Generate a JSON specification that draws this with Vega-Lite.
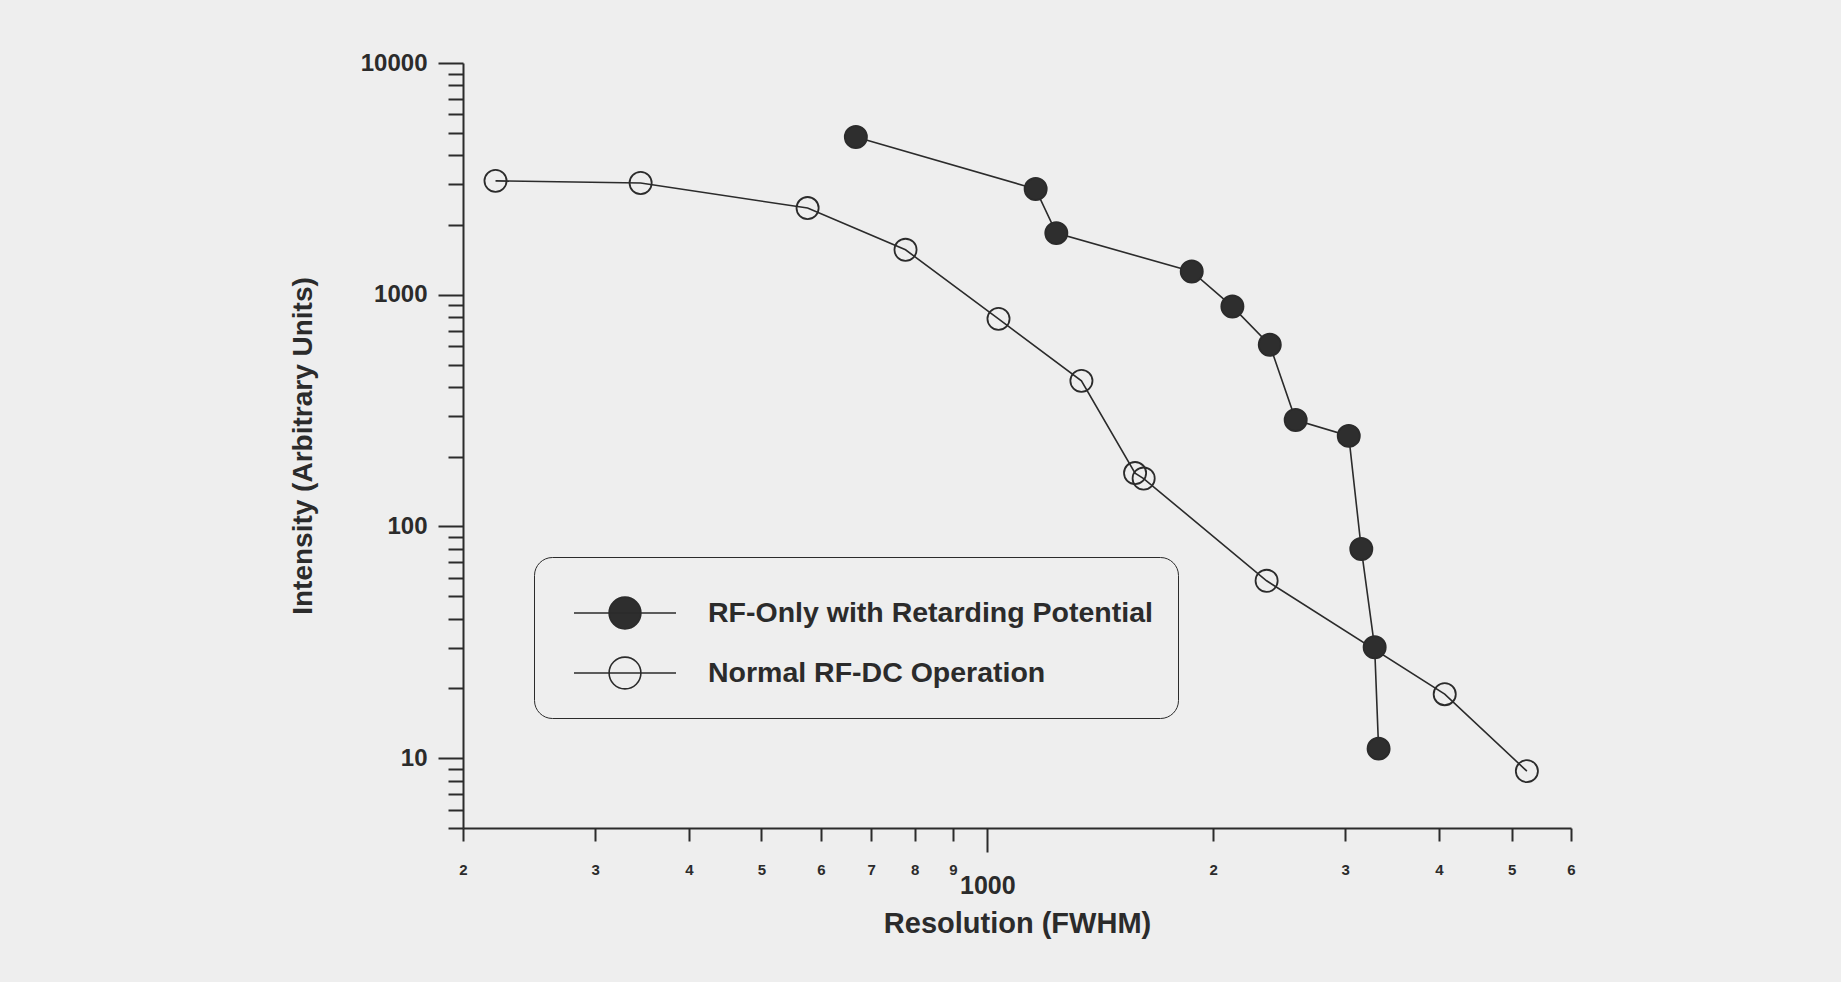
{
  "$schema": "https://vega.github.io/schema/vega-lite/v6.json",
  "width": 1108,
  "height": 765,
  "autosize": {"type": "none"},
  "padding": {"left": 463, "top": 63, "right": 270, "bottom": 154},
  "background": "#eeeeee",
  "config": {
    "view": {"stroke": null},
    "font": "Liberation Sans",
    "axis": {
      "domainColor": "#2b2b2b", "domainWidth": 2, "tickColor": "#2b2b2b", "tickWidth": 2,
      "labelColor": "#2b2b2b", "titleColor": "#2b2b2b", "labelFont": "Liberation Sans",
      "titleFont": "Liberation Sans", "labelFontWeight": "bold", "titleFontWeight": "bold",
      "grid": false, "labelOverlap": false, "labelFlush": false, "labelBound": false
    }
  },
  "data": {"values": [
    {"series": "RF-Only with Retarding Potential", "resolution": 668, "intensity": 4790},
    {"series": "RF-Only with Retarding Potential", "resolution": 1160, "intensity": 2858},
    {"series": "RF-Only with Retarding Potential", "resolution": 1236, "intensity": 1845},
    {"series": "RF-Only with Retarding Potential", "resolution": 1873, "intensity": 1260},
    {"series": "RF-Only with Retarding Potential", "resolution": 2122, "intensity": 889},
    {"series": "RF-Only with Retarding Potential", "resolution": 2380, "intensity": 608},
    {"series": "RF-Only with Retarding Potential", "resolution": 2577, "intensity": 288},
    {"series": "RF-Only with Retarding Potential", "resolution": 3033, "intensity": 246},
    {"series": "RF-Only with Retarding Potential", "resolution": 3152, "intensity": 80},
    {"series": "RF-Only with Retarding Potential", "resolution": 3284, "intensity": 30.1},
    {"series": "RF-Only with Retarding Potential", "resolution": 3324, "intensity": 11.0},
    {"series": "Normal RF-DC Operation", "resolution": 221, "intensity": 3100},
    {"series": "Normal RF-DC Operation", "resolution": 345, "intensity": 3034},
    {"series": "Normal RF-DC Operation", "resolution": 576, "intensity": 2366},
    {"series": "Normal RF-DC Operation", "resolution": 778, "intensity": 1563},
    {"series": "Normal RF-DC Operation", "resolution": 1035, "intensity": 787},
    {"series": "Normal RF-DC Operation", "resolution": 1335, "intensity": 425},
    {"series": "Normal RF-DC Operation", "resolution": 1574, "intensity": 170},
    {"series": "Normal RF-DC Operation", "resolution": 1616, "intensity": 161},
    {"series": "Normal RF-DC Operation", "resolution": 2357, "intensity": 58.3},
    {"series": "Normal RF-DC Operation", "resolution": 4072, "intensity": 18.9},
    {"series": "Normal RF-DC Operation", "resolution": 5240, "intensity": 8.8}
  ]},
  "encoding": {
    "x": {
      "field": "resolution", "type": "quantitative",
      "scale": {"type": "log", "domain": [200, 6000], "nice": false},
      "axis": {
        "title": "Resolution (FWHM)", "titleFontSize": 29, "titleX": 554, "titleY": 81,
        "titleBaseline": "top", "titleAlign": "center",
        "values": [200, 300, 400, 500, 600, 700, 800, 900, 1000, 2000, 3000, 4000, 5000, 6000],
        "labelExpr": "datum.value == 1000 ? '1000' : (datum.value < 1000 ? '' + (datum.value / 100) : '' + (datum.value / 1000))",
        "labelFontSize": {"condition": {"test": "datum.value == 1000", "value": 25}, "value": 15},
        "tickSize": {"condition": {"test": "datum.value == 1000", "value": 24}, "value": 13},
        "labelPadding": 21
      }
    },
    "y": {
      "field": "intensity", "type": "quantitative",
      "scale": {"type": "log", "domain": [5, 10000], "nice": false},
      "axis": {
        "title": "Intensity (Arbitrary Units)", "titleFontSize": 28, "titleX": -160, "titleY": 382.5,
        "titleAngle": -90, "titleAlign": "center", "titleBaseline": "middle",
        "values": [5, 6, 7, 8, 9, 10, 20, 30, 40, 50, 60, 70, 80, 90, 100, 200, 300, 400, 500, 600, 700, 800, 900, 1000, 2000, 3000, 4000, 5000, 6000, 7000, 8000, 9000, 10000],
        "labelExpr": "(datum.value == 10 || datum.value == 100 || datum.value == 1000 || datum.value == 10000) ? '' + datum.value : ''",
        "tickSize": {"condition": {"test": "datum.value == 10 || datum.value == 100 || datum.value == 1000 || datum.value == 10000", "value": 25}, "value": 15},
        "labelFontSize": 24, "labelPadding": 11
      }
    }
  },
  "layer": [
    {
      "mark": {"type": "line", "color": "#2b2b2b", "strokeWidth": 1.6},
      "encoding": {"detail": {"field": "series"}}
    },
    {
      "mark": {"type": "point", "shape": "circle", "filled": true, "size": 490, "stroke": "#2b2b2b", "strokeWidth": 1.8, "opacity": 1},
      "encoding": {
        "fill": {
          "field": "series", "type": "nominal",
          "scale": {"domain": ["RF-Only with Retarding Potential", "Normal RF-DC Operation"], "range": ["#2e2e2e", "transparent"]},
          "legend": {
            "title": null, "orient": "none", "legendX": 71, "legendY": 494,
            "symbolType": "M-1.7,0H1.7M0.53,0A0.53,0.53 0 1,1 -0.53,0A0.53,0.53 0 1,1 0.53,0Z",
            "symbolSize": 3600, "symbolStrokeColor": "#2b2b2b", "symbolStrokeWidth": 1.6,
            "symbolOffset": 35,
            "labelFont": "Liberation Sans", "labelFontWeight": "bold", "labelFontSize": 28.5,
            "labelColor": "#2b2b2b", "labelLimit": 800, "labelOffset": 52, "rowPadding": 9,
            "padding": 25, "strokeColor": "#2b2b2b", "cornerRadius": 18
          }
        }
      }
    }
  ]
}
